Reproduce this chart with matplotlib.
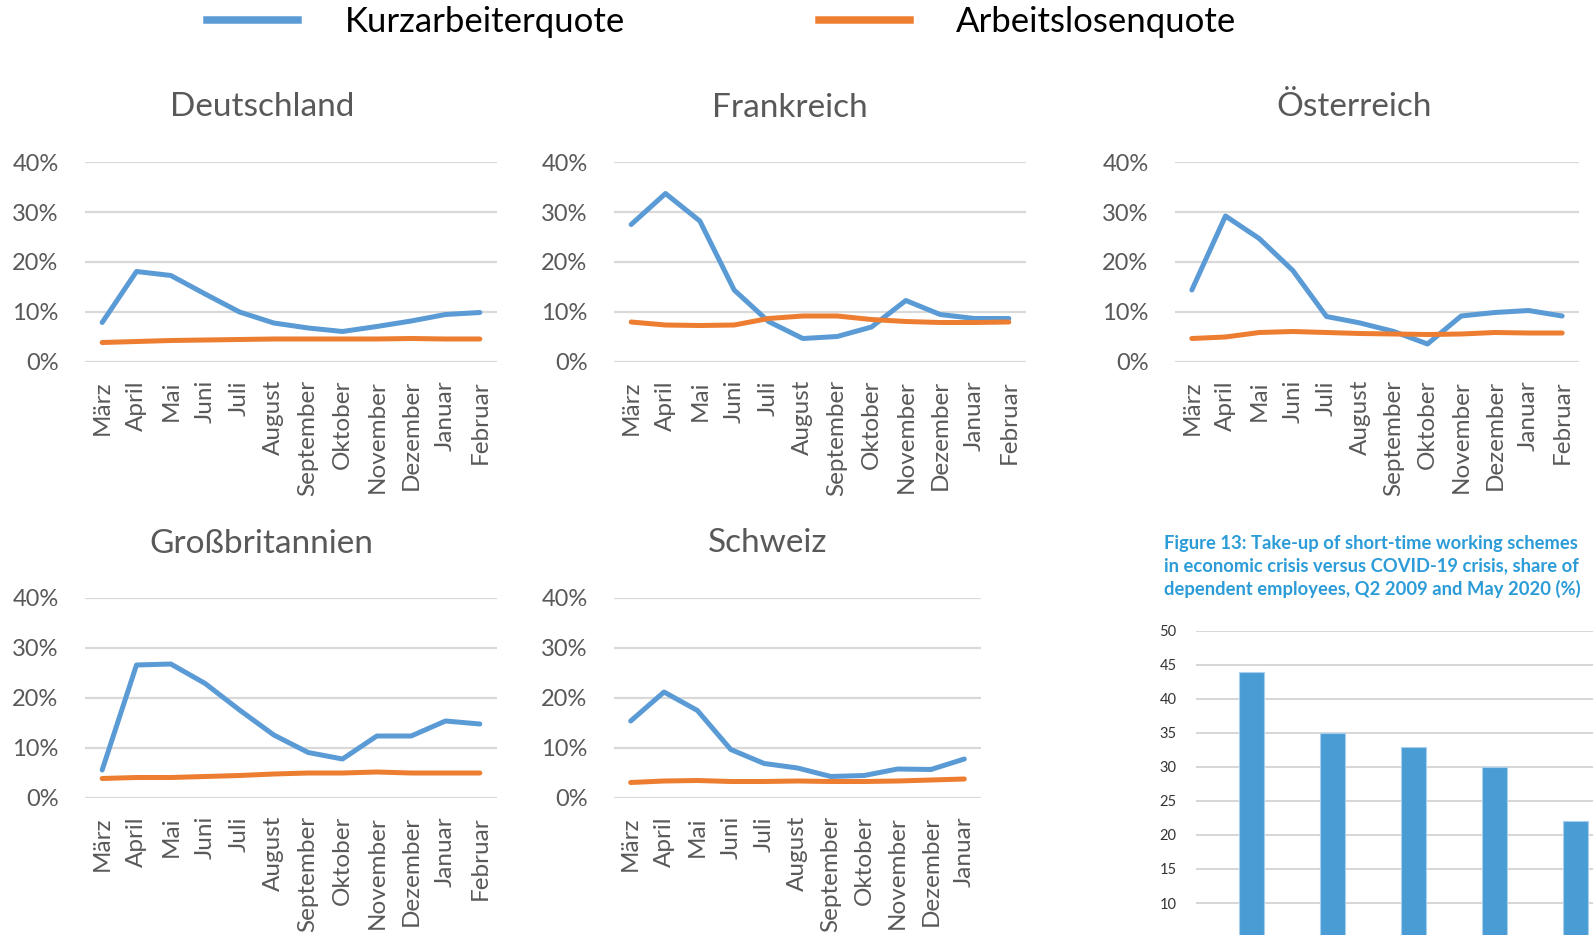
import matplotlib
matplotlib.use("Agg")
import matplotlib.pyplot as plt
from matplotlib.lines import Line2D
from matplotlib.ticker import FuncFormatter

plt.rcParams['font.family'] = ['Lato', 'DejaVu Sans']

# Daten (Kurzarbeiterquote / Arbeitslosenquote, in Anteilen)
monate = ["März", "April", "Mai", "Juni", "Juli", "August", "September",
          "Oktober", "November", "Dezember", "Januar", "Februar"]

de_kurz = [0.079, 0.181, 0.173, 0.136, 0.100, 0.078, 0.068, 0.061, 0.071, 0.082, 0.095, 0.099]
de_alq = [0.039, 0.041, 0.043, 0.044, 0.045, 0.046, 0.046, 0.046, 0.046, 0.047, 0.046, 0.046]

fr_kurz = [0.275, 0.337, 0.282, 0.144, 0.081, 0.047, 0.051, 0.070, 0.123, 0.095, 0.087, 0.087]
fr_alq = [0.080, 0.074, 0.073, 0.074, 0.087, 0.092, 0.092, 0.085, 0.081, 0.079, 0.079, 0.080]

at_kurz = [0.144, 0.292, 0.247, 0.183, 0.091, 0.078, 0.061, 0.036, 0.092, 0.099, 0.103, 0.092]
at_alq = [0.047, 0.050, 0.059, 0.061, 0.059, 0.057, 0.056, 0.055, 0.056, 0.059, 0.058, 0.058]

gb_kurz = [0.056, 0.266, 0.268, 0.229, 0.176, 0.126, 0.091, 0.078, 0.124, 0.124, 0.154, 0.148]
gb_alq = [0.039, 0.041, 0.041, 0.043, 0.045, 0.048, 0.050, 0.050, 0.052, 0.050, 0.050, 0.050]

ch_kurz = [0.154, 0.212, 0.175, 0.097, 0.069, 0.060, 0.043, 0.045, 0.058, 0.057, 0.078]
ch_alq = [0.031, 0.034, 0.035, 0.033, 0.033, 0.034, 0.033, 0.033, 0.034, 0.036, 0.038]

# Ausschnitt der Figur 13 (Balken, Werte in %)
fig13_werte = [44, 35, 33, 30, 22]
fig13_titel = ["Figure 13: Take-up of short-time working schemes",
               "in economic crisis versus COVID-19 crisis, share of",
               "dependent employees, Q2 2009 and May 2020 (%)"]

BLAU = '#5B9BD5'
ORANGE = '#ED7D31'
GRAU = '#595959'
GITTER = '#D9D9D9'

W, H = 1593, 935
fig = plt.figure(figsize=(W / 100, H / 100), dpi=100)


def px_axes(x0, y0, x1, y1):
    return fig.add_axes([x0 / W, 1 - y1 / H, (x1 - x0) / W, (y1 - y0) / H])


def panel(box, titel, titel_xy, kurz, alq):
    ax = px_axes(*box)
    n = len(kurz)
    x = range(n)
    ax.plot(x, kurz, color=BLAU, lw=3.6, solid_joinstyle='round', solid_capstyle='round', zorder=3)
    ax.plot(x, alq, color=ORANGE, lw=3.6, solid_joinstyle='round', solid_capstyle='round', zorder=3)
    ax.set_xlim(-0.5, n - 0.5)
    ax.set_ylim(0, 0.4)
    ax.set_yticks([0, 0.1, 0.2, 0.3, 0.4])
    ax.yaxis.set_major_formatter(FuncFormatter(lambda v, p: f"{v * 100:.0f}%"))
    ax.set_xticks(list(x))
    ax.set_xticklabels(monate[:n], rotation=90)
    ax.tick_params(axis='both', length=0, labelcolor=GRAU)
    ax.tick_params(axis='y', pad=19, labelsize=17)
    ax.tick_params(axis='x', pad=13, labelsize=17.5)
    ax.grid(axis='y', color=GITTER, lw=1.6)
    ax.set_axisbelow(True)
    for s in ax.spines.values():
        s.set_visible(False)
    fig.text(titel_xy[0] / W, 1 - titel_xy[1] / H, titel, ha='center', va='center',
             fontsize=24, color=GRAU)
    return ax


panel((85, 162, 497, 362), "Deutschland", (262, 107), de_kurz, de_alq)
panel((614, 162, 1026, 362), "Frankreich", (790, 108), fr_kurz, fr_alq)
panel((1175, 162, 1579, 362), "Österreich", (1354, 107), at_kurz, at_alq)
panel((85, 598, 497, 798), "Großbritannien", (261, 544), gb_kurz, gb_alq)
panel((614, 598, 981, 798), "Schweiz", (768, 543), ch_kurz, ch_alq)

# Legende oben
handles = [Line2D([], [], color=BLAU, lw=5.4), Line2D([], [], color=ORANGE, lw=5.4)]
fig.legend(handles, ["Kurzarbeiterquote", "Arbeitslosenquote"], loc='center',
           bbox_to_anchor=(722 / W, 1 - 22 / H), ncol=2, frameon=False,
           fontsize=25, handlelength=2.6, handletextpad=1.35, columnspacing=5.6)

# Ausschnitt Figur 13 unten rechts
for i, zeile in enumerate(fig13_titel):
    fig.text(1164 / W, 1 - (543 + 23 * i) / H, zeile, ha='left', va='center',
             fontsize=13.2, fontweight='bold', color='#2B9CD8')

bx = px_axes(1196, 631, 1696, 971)
bx.bar(range(len(fig13_werte)), fig13_werte, width=0.31, color='#4A9CD4',
       edgecolor='#A9CFEE', lw=0.8, zorder=3)
bx.set_xlim(-0.684, 5.481)
bx.set_ylim(0, 50)
bx.set_yticks(range(10, 51, 5))
bx.set_xticks([])
bx.tick_params(axis='y', length=0, labelsize=10.5, labelcolor='#333333', pad=14)
bx.grid(axis='y', color='#D0D0D0', lw=1.2)
bx.set_axisbelow(True)
for s in bx.spines.values():
    s.set_visible(False)

fig.savefig("out.png", dpi=100, facecolor='white')
